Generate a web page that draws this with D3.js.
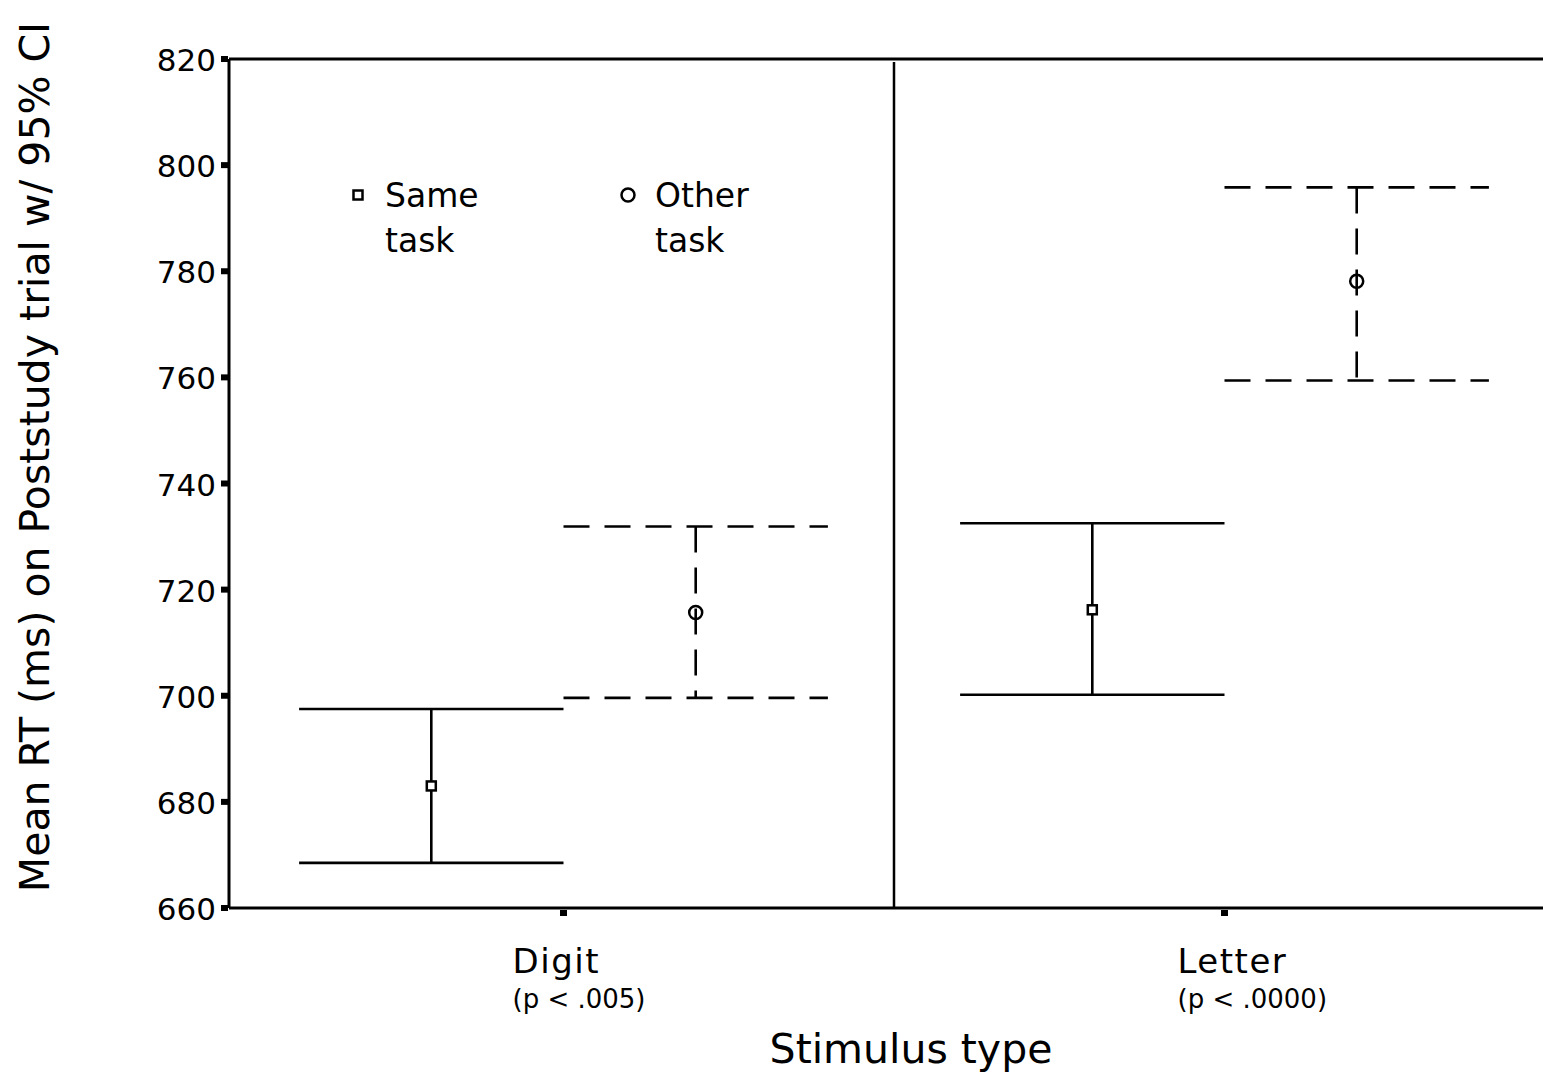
<!DOCTYPE html>
<html>
<head>
<meta charset="UTF-8">
<script src="https://d3js.org/d3.v7.min.js"></script>
<style>
  body { margin: 0; background: #fff; }
  text { font-family: "DejaVu Sans", sans-serif; fill: #000; }
</style>
</head>
<body>
<div id="chart"></div>
<script>
// data
var categories = ["Digit", "Letter"];
var pLabels = ["(p < .005)", "(p < .0000)"];
var groups = ["Same task", "Other task"];
var yTicks = [660, 680, 700, 720, 740, 760, 780, 800, 820];

var sameMean = [683.0, 716.2];
var sameLo   = [668.5, 700.2];
var sameHi   = [697.5, 732.5];

var otherMean = [715.7, 778.1];
var otherLo   = [699.6, 759.4];
var otherHi   = [731.9, 795.8];

var width = 1543, height = 1075;
var margin = {top: 59, bottom: 908, left: 229};

var svg = d3.select("#chart").append("svg")
  .attr("width", width).attr("height", height);

var y = d3.scaleLinear().domain([660, 820]).range([margin.bottom, margin.top]);

var x = d3.scaleBand().domain(categories).range([233, 1555]).padding(0);
var xSub = d3.scalePoint().domain(groups).range([0, x.bandwidth()]).padding(0.75);
var capHalf = x.bandwidth() * 0.2;

// frame
svg.append("line").attr("x1", margin.left).attr("x2", width)
  .attr("y1", margin.top).attr("y2", margin.top)
  .attr("stroke", "#000").attr("stroke-width", 3);
svg.append("line").attr("x1", margin.left).attr("x2", margin.left)
  .attr("y1", margin.top).attr("y2", margin.bottom)
  .attr("stroke", "#000").attr("stroke-width", 3);
svg.append("line").attr("x1", margin.left).attr("x2", width)
  .attr("y1", margin.bottom).attr("y2", margin.bottom)
  .attr("stroke", "#000").attr("stroke-width", 3);

// panel divider
svg.append("line")
  .attr("x1", x("Letter")).attr("x2", x("Letter"))
  .attr("y1", margin.top + 3).attr("y2", margin.bottom)
  .attr("stroke", "#000").attr("stroke-width", 2.5);

// y axis ticks + labels
var yAxis = svg.append("g");
yAxis.selectAll("rect").data(yTicks).enter().append("rect")
  .attr("x", margin.left - 8).attr("y", function(d) { return y(d) - 3; })
  .attr("width", 7).attr("height", 6).attr("fill", "#000");
yAxis.selectAll("text").data(yTicks).enter().append("text")
  .attr("x", margin.left - 13).attr("y", function(d) { return y(d) + 12; })
  .attr("text-anchor", "end").style("font-size", "31px")
  .text(function(d) { return d; });

// x axis ticks + labels
var xAxis = svg.append("g");
xAxis.selectAll("rect").data(categories).enter().append("rect")
  .attr("x", function(d) { return x(d) + x.bandwidth() / 2 - 3.5; })
  .attr("y", margin.bottom + 2).attr("width", 7).attr("height", 6).attr("fill", "#000");
xAxis.selectAll("text.cat").data(categories).enter().append("text")
  .attr("class", "cat")
  .attr("x", function(d, i) { return x(d) + x.bandwidth() / 2 - (i == 0 ? 51 : 47); })
  .attr("y", 973).style("font-size", "34px").style("letter-spacing", "1.5px")
  .text(function(d) { return d; });
xAxis.selectAll("text.p").data(pLabels).enter().append("text")
  .attr("class", "p")
  .attr("x", function(d, i) { return x(categories[i]) + x.bandwidth() / 2 - (i == 0 ? 51 : 47); })
  .attr("y", 1008).style("font-size", "26px")
  .text(function(d) { return d; });

// axis titles
svg.append("text")
  .attr("transform", "translate(49,457) rotate(-90)")
  .attr("text-anchor", "middle").style("font-size", "41px")
  .text("Mean RT (ms) on Poststudy trial w/ 95% CI");
svg.append("text")
  .attr("x", 911).attr("y", 1063).attr("text-anchor", "middle")
  .style("font-size", "41px").text("Stimulus type");

// error bars
function drawBars(mean, lo, hi, group, dash, marker) {
  var g = svg.append("g");
  var cx = function(i) { return x(categories[i]) + xSub(group); };
  categories.forEach(function(c, i) {
    var px = cx(i);
    [hi[i], lo[i]].forEach(function(v) {
      g.append("line")
        .attr("x1", px - capHalf).attr("x2", px + capHalf)
        .attr("y1", y(v)).attr("y2", y(v))
        .attr("stroke", "#000").attr("stroke-width", 2.6)
        .attr("stroke-dasharray", dash);
    });
    g.append("line")
      .attr("x1", px).attr("x2", px)
      .attr("y1", y(hi[i])).attr("y2", y(lo[i]))
      .attr("stroke", "#000").attr("stroke-width", 2.6)
      .attr("stroke-dasharray", dash);
    if (marker == "square") {
      g.append("rect").attr("x", px - 4.5).attr("y", y(mean[i]) - 4.5)
        .attr("width", 9).attr("height", 9)
        .attr("fill", "#fff").attr("stroke", "#000").attr("stroke-width", 2.5);
    } else {
      g.append("circle").attr("cx", px).attr("cy", y(mean[i])).attr("r", 6.5)
        .attr("fill", "none").attr("stroke", "#000").attr("stroke-width", 2.5);
    }
  });
}
drawBars(sameMean, sameLo, sameHi, "Same task", null, "square");
drawBars(otherMean, otherLo, otherHi, "Other task", "26,15", "circle");

// legend
var legend = svg.append("g");
var legX = [358, 628];
groups.forEach(function(gname, i) {
  var lg = legend.append("g");
  if (i == 0) {
    lg.append("rect").attr("x", legX[i] - 4.5).attr("y", 190.5).attr("width", 9).attr("height", 9)
      .attr("fill", "#fff").attr("stroke", "#000").attr("stroke-width", 2.5);
  } else {
    lg.append("circle").attr("cx", legX[i]).attr("cy", 195).attr("r", 6.5)
      .attr("fill", "none").attr("stroke", "#000").attr("stroke-width", 2.5);
  }
  var words = gname.split(" ");
  lg.append("text").attr("x", legX[i] + 27).attr("y", 207).style("font-size", "33px").text(words[0]);
  lg.append("text").attr("x", legX[i] + 27).attr("y", 252).style("font-size", "33px").text(words[1]);
});
</script>
</body>
</html>
